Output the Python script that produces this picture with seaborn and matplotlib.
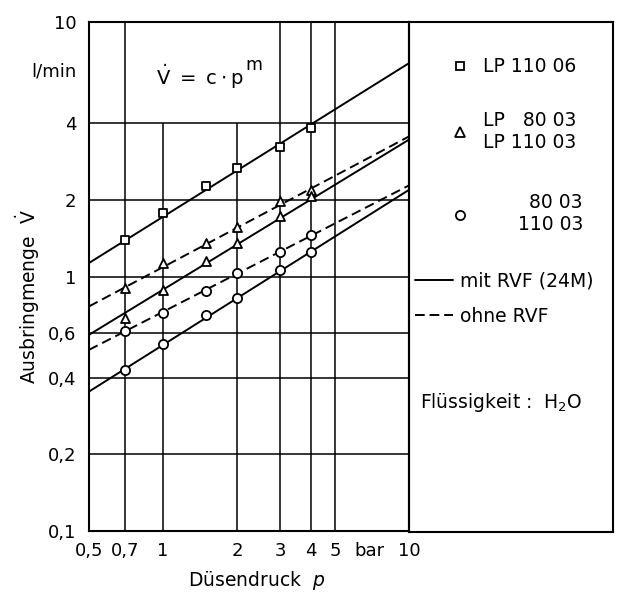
import matplotlib
matplotlib.use("Agg")
import matplotlib.pyplot as plt
import seaborn as sns
from matplotlib.lines import Line2D

# Messpunkte (Düsendruck in bar, Ausbringmenge in l/min)
p_meas = [0.7, 1, 1.5, 2, 3, 4]
lp11006_mit = [1.39, 1.78, 2.27, 2.68, 3.22, 3.83]
lp8003_ohne = [0.90, 1.13, 1.36, 1.57, 1.98, 2.19]
lp8003_mit = [0.687, 0.885, 1.155, 1.36, 1.73, 2.07]
s8003_ohne = [0.612, 0.722, 0.879, 1.03, 1.25, 1.45]
s8003_mit = [0.43, 0.545, 0.705, 0.823, 1.06, 1.25]

p_line = [0.5, 10]
line_lp11006_mit = [1.13, 6.89]
line_lp8003_ohne = [0.763, 3.55]
line_lp8003_mit = [0.59, 3.45]
line_s8003_ohne = [0.515, 2.28]
line_s8003_mit = [0.353, 2.19]

x_ticks = [0.5, 0.7, 1, 2, 3, 4, 5, 6.9, 10]
x_labels = ["0,5", "0,7", "1", "2", "3", "4", "5", "bar", "10"]
y_ticks = [0.1, 0.2, 0.4, 0.6, 1, 2, 4, 6.5, 10]
y_labels = ["0,1", "0,2", "0,4", "0,6", "1", "2", "4", "l/min", "10"]

W, H = 623, 593
sns.set_style("white")
plt.rcParams["font.family"] = ["DejaVu Sans"]
plt.rcParams["mathtext.fontset"] = "dejavusans"
plt.rcParams["text.color"] = "black"
plt.rcParams["axes.labelcolor"] = "black"

fig = plt.figure(figsize=(W / 100, H / 100), dpi=100)
ax = fig.add_axes([89 / W, 1 - 531 / H, 320 / W, 509 / H])
ax.set_xscale("log")
ax.set_yscale("log")

# Gitter
for yv in [0.2, 0.4, 0.6, 1, 2, 4]:
    ax.axhline(yv, color="black", lw=1.1, zorder=1)
for xv in [0.7, 3, 4, 5]:
    ax.axvline(xv, color="black", lw=1.1, zorder=1)
ax.vlines([1, 2], 0.1, 4, color="black", lw=1.1, zorder=1)

dash = (0, (5, 2.6))
lines = [
    (line_lp11006_mit, "-"),
    (line_lp8003_ohne, dash),
    (line_lp8003_mit, "-"),
    (line_s8003_ohne, dash),
    (line_s8003_mit, "-"),
]
for vals, ls in lines:
    sns.lineplot(x=p_line, y=vals, color="black", lw=1.4, linestyle=ls, ax=ax, zorder=2)

points = [
    (lp11006_mit, "s", 36),
    (lp8003_ohne, "^", 42),
    (lp8003_mit, "^", 42),
    (s8003_ohne, "o", 44),
    (s8003_mit, "o", 44),
]
for vals, mk, sz in points:
    sns.scatterplot(x=p_meas, y=vals, marker=mk, s=sz, facecolor="white",
                    edgecolor="black", linewidth=1.3, ax=ax, zorder=3)

ax.set_xlim(0.5, 10)
ax.set_ylim(0.1, 10)
ax.set_xticks(x_ticks, x_labels)
ax.set_yticks(y_ticks, y_labels)
ax.minorticks_off()
ax.tick_params(axis="both", length=0, labelsize=13, colors="black")
ax.tick_params(axis="y", pad=9)
ax.tick_params(axis="x", pad=8)
for sp in ax.spines.values():
    sp.set_color("black")
    sp.set_linewidth(1.5)

# Legendenfeld rechts
ax2 = fig.add_axes([409 / W, 1 - 532 / H, 204 / W, 510 / H])
ax2.set_xticks([])
ax2.set_yticks([])
ax2.patch.set_alpha(0)
for sp in ax2.spines.values():
    sp.set_color("black")
    sp.set_linewidth(1.5)


def add_key(handle, label, x_px, y_px, textpad, hlen=1.0):
    leg = fig.legend(handles=[handle], labels=[label], loc="center left",
                     bbox_to_anchor=(x_px / W, 1 - y_px / H), frameon=False,
                     borderpad=0, borderaxespad=0, handlelength=hlen,
                     handletextpad=textpad, fontsize=13.5, labelcolor="black")
    for t in leg.get_texts():
        t.set_multialignment("right")


mk_kw = dict(ls="none", mfc="white", mec="black", mew=1.3)
add_key(Line2D([], [], marker="s", ms=6.0, **mk_kw), "LP 110 06", 451, 67, 0.68)
add_key(Line2D([], [], marker="^", ms=6.5, **mk_kw), "LP   80 03\nLP 110 03", 451, 131, 0.68)
add_key(Line2D([], [], marker="o", ms=6.6, **mk_kw), "80 03\n110 03", 451, 214, 2.55)
add_key(Line2D([], [], color="black", lw=1.4), "mit RVF (24M)", 415, 281, 0.37, 2.05)
add_key(Line2D([], [], color="black", lw=1.4, linestyle=(0, (5, 2.5))), "ohne RVF", 415, 316, 0.37, 2.05)

fig.text(420 / W, 1 - 402 / H, r"Flüssigkeit :  $\mathrm{H_2O}$", fontsize=13.5,
         ha="left", va="center")

# Formel und Achsentitel
fig.text(200 / W, 1 - 77 / H, r"$\dot{\mathrm{V}}\ =\ \mathrm{c}\cdot\mathrm{p}$",
         fontsize=14, ha="center", va="center")
fig.text(245 / W, 1 - 65 / H, "m", fontsize=12.5, ha="left", va="center")
fig.text(257 / W, 1 - 580 / H, r"Düsendruck  $\mathit{p}$", fontsize=13.5,
         ha="center", va="center")
fig.text(28 / W, 1 - 297 / H, r"Ausbringmenge  $\dot{\mathrm{V}}$", fontsize=13.5,
         rotation=90, ha="center", va="center")

fig.savefig("out.png", dpi=100)
